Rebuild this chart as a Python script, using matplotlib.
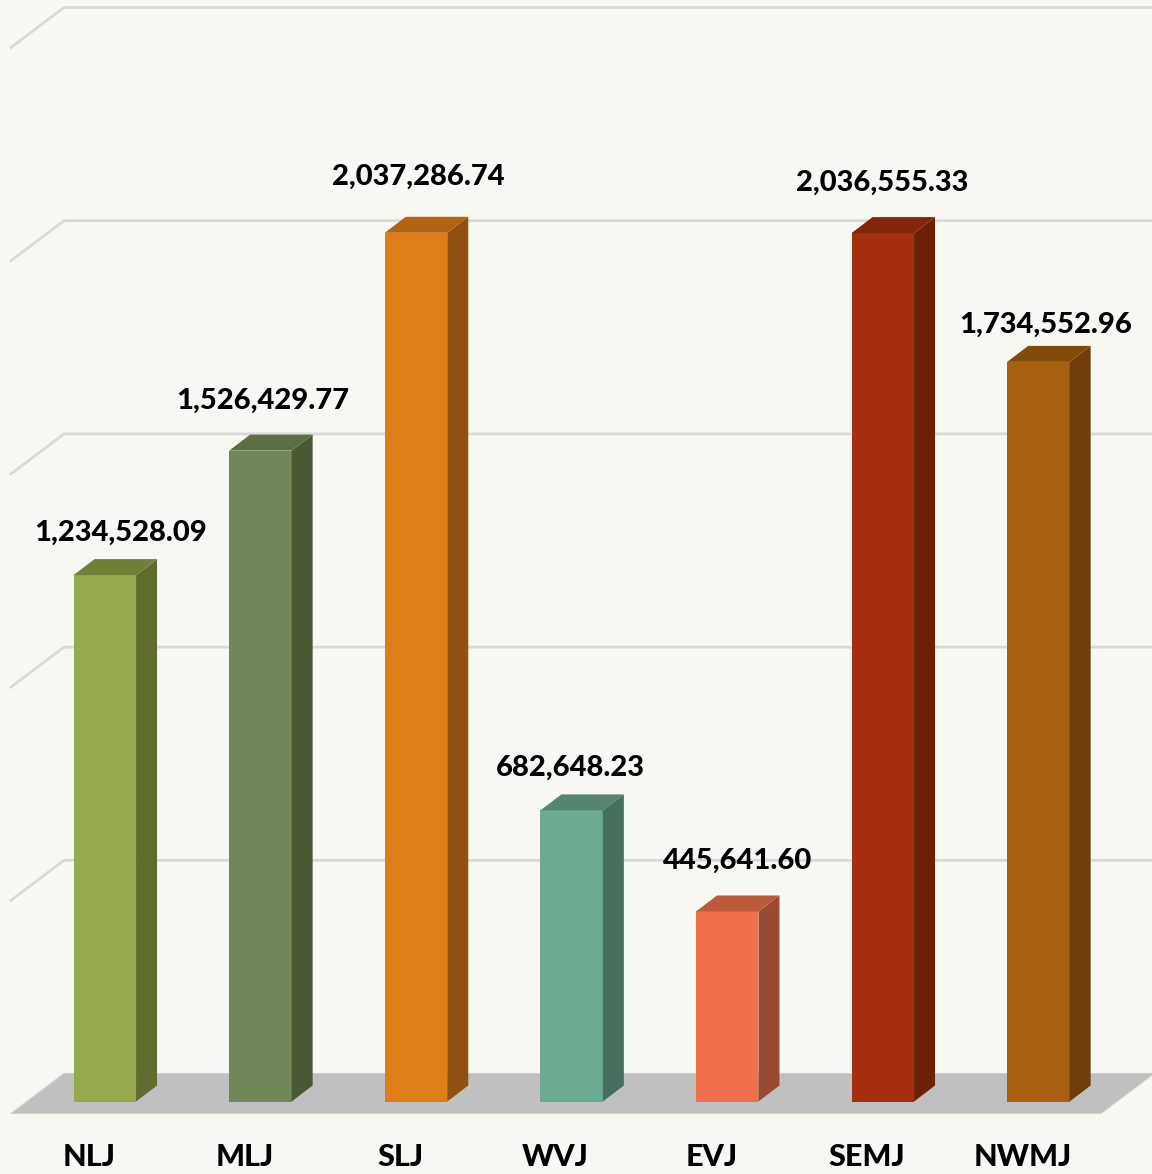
import matplotlib.pyplot as plt
from matplotlib.patches import Polygon

# данные
categories = ["NLJ", "MLJ", "SLJ", "WVJ", "EVJ", "SEMJ", "NWMJ"]
values = [1234528.09, 1526429.77, 2037286.74, 682648.23, 445641.60, 2036555.33, 1734552.96]
grid_values = [0, 500000, 1000000, 1500000, 2000000, 2500000]

# цвета: лицевая, боковая и верхняя грани
front_colors = ["#94AA4C", "#728757", "#DF7D18", "#6DAB91", "#F16F4B", "#A32F0D", "#A86010"]
side_colors = ["#5F6E30", "#4A5833", "#8F510F", "#44705D", "#9A4A33", "#6E1F08", "#6D3E09"]
top_colors = ["#6F8038", "#5D6E42", "#B26410", "#55866F", "#BC5A3C", "#832508", "#834B0A"]

BG = "#F7F8F1"
GRID = "#D9D9D6"
FLOOR = "#C0C0C0"
FONT = "Lato"

W, H = 1152, 1174
PX_PER_UNIT = 213.2 / 500000  # пикселей на единицу значения
BASE_Y = 1101.5  # низ столбцов, пиксели
X0, X_STEP = 104.8, 155.6  # центр первого столбца и шаг
PX_X = 1 / X_STEP
PX_Y = 1 / PX_PER_UNIT

fig = plt.figure(figsize=(W / 100, H / 100), dpi=100, facecolor=BG)
ax = fig.add_axes([0, 0, 1, 1])
ax.set_facecolor(BG)
ax.set_xlim(-X0 * PX_X, (W - X0) * PX_X)
ax.set_ylim((BASE_Y - H) * PX_Y, BASE_Y * PX_Y)
ax.axis("off")

bar_width = 62.5 * PX_X
depth_x, depth_y = 21 * PX_X, 16 * PX_Y

# пол
floor_left = (11 - X0) * PX_X
floor_right = (1101 - X0) * PX_X
floor_front = -12 * PX_Y
wall_dx, wall_dy = 53 * PX_X, 40 * PX_Y
ax.add_patch(
    Polygon(
        [
            (floor_left, floor_front),
            (floor_right, floor_front),
            (floor_right + wall_dx, floor_front + wall_dy),
            (floor_left + wall_dx, floor_front + wall_dy),
        ],
        facecolor=FLOOR,
        edgecolor="#CFCFCF",
        linewidth=0.8,
        zorder=1,
    )
)

# линии сетки
for v in grid_values[1:]:
    ax.plot(
        [floor_left, floor_left + wall_dx, (W + 5 - X0) * PX_X],
        [floor_front + v, floor_front + wall_dy + v, floor_front + wall_dy + v],
        color=GRID,
        linewidth=2,
        solid_joinstyle="miter",
        zorder=1,
    )

# столбцы
for i, v in enumerate(values):
    l = i - bar_width / 2
    r = i + bar_width / 2
    ax.bar(i, v, width=bar_width, color=front_colors[i], linewidth=0, zorder=3)
    ax.add_patch(
        Polygon(
            [(r, 0), (r + depth_x, depth_y), (r + depth_x, v + depth_y), (r, v)],
            facecolor=side_colors[i],
            edgecolor="none",
            zorder=3,
        )
    )
    ax.add_patch(
        Polygon(
            [(l, v), (r, v), (r + depth_x, v + depth_y), (l + depth_x, v + depth_y)],
            facecolor=top_colors[i],
            edgecolor="none",
            zorder=3,
        )
    )

# подписи значений (смещения от верха столбца подобраны по картинке)
label_dx = [16, 2.5, 2.5, -0.8, 10, -1, 7.4]
label_dy = [42, 50, 56, 43, 51, 50, 37]
for i, v in enumerate(values):
    ax.text(
        i + label_dx[i] * PX_X,
        v + label_dy[i] * PX_Y,
        f"{v:,.2f}",
        ha="center",
        va="center",
        fontsize=21,
        fontweight="black",
        family=FONT,
        color="black",
        zorder=4,
    )

# подписи категорий
for i, name in enumerate(categories):
    ax.text(
        i - 16 * PX_X,
        (BASE_Y - 1157.5) * PX_Y,
        name,
        ha="center",
        va="center",
        fontsize=22,
        fontweight="black",
        family=FONT,
        color="black",
    )

fig.savefig("out.png", dpi=100, facecolor=BG)
plt.close(fig)
